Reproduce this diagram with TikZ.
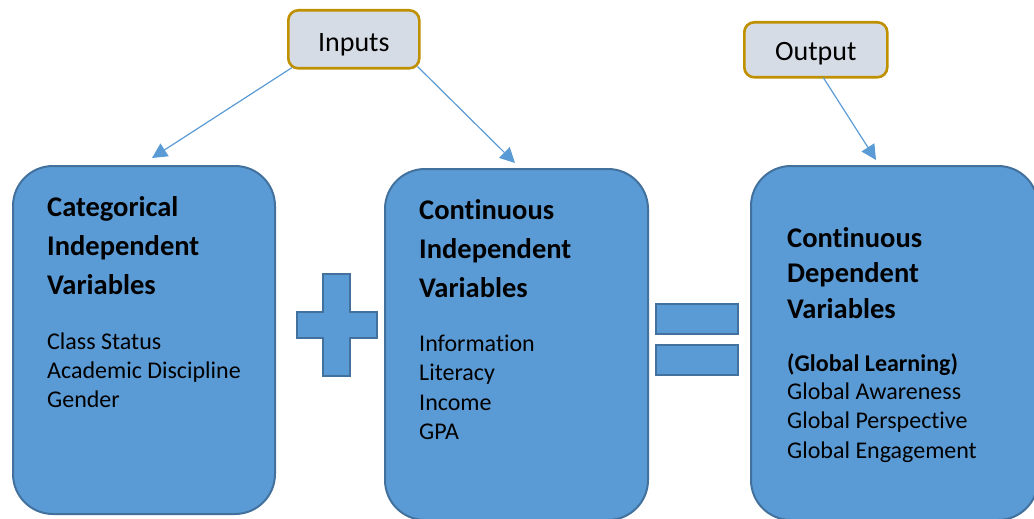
\documentclass[tikz,border=0pt]{standalone}
\usepackage{fontspec}
\setmainfont[Ligatures=NoCommon,RawFeature={-liga;-clig;-dlig}]{Carlito}
\usetikzlibrary{arrows.meta,calc}
\definecolor{boxfill}{HTML}{5B9BD5}
\definecolor{boxline}{HTML}{41719C}
\definecolor{tagfill}{HTML}{D6DCE5}
\definecolor{tagline}{HTML}{BF9000}
\tikzset{
  bigbox/.style={draw=boxline, fill=boxfill, line width=2pt, rounded corners=40pt, anchor=north west, inner sep=0pt},
  tagbox/.style={draw=tagline, fill=tagfill, line width=2.6pt, rounded corners=10pt, anchor=north west, inner sep=0pt, font=\fontsize{28}{32}\selectfont},
  opshape/.style={draw=boxline, fill=boxfill, line width=2pt},
  ttl/.style={anchor=base west, inner sep=0pt, font=\fontsize{28.5}{34}\selectfont\bfseries},
  sub/.style={anchor=base west, inner sep=0pt, font=\fontsize{24}{29}\selectfont\bfseries},
  itm/.style={anchor=base west, inner sep=0pt, font=\fontsize{24}{29}\selectfont},
  arr/.style={draw=boxfill, line width=1.2pt, -{Triangle[length=15pt,width=15pt]}}
}
\begin{document}
\begin{tikzpicture}[x=1pt,y=-1pt]
\useasboundingbox (0,0) rectangle (1034,519);
% boxes
\node[bigbox, minimum width=262pt, minimum height=348pt] (b1) at (12,165) {};
\node[bigbox, minimum width=263pt, minimum height=351pt] (b2) at (384,168) {};
\node[bigbox, minimum width=287pt, minimum height=354pt] (b3) at (750,165) {};
% tags
\node[tagbox, minimum width=131pt, minimum height=58pt] (in) at (287,9) {\raisebox{-12pt}[0pt][0pt]{Inputs}};
\node[tagbox, minimum width=143pt, minimum height=55pt] (out) at (743,21) {\raisebox{-11pt}[0pt][0pt]{Output}};
% plus
\draw[opshape] (323,274) -- (350,274) -- (350,312) -- (377,312) -- (377,338) -- (350,338) -- (350,376) -- (323,376) -- (323,338) -- (297,338) -- (297,312) -- (323,312) -- cycle;
% equals
\node[opshape, anchor=north west, minimum width=82pt, minimum height=30pt, inner sep=0pt] (eq1) at (655,303) {};
\node[opshape, anchor=north west, minimum width=82pt, minimum height=30pt, inner sep=0pt] (eq2) at (655,344) {};
% box 1 text
\node[ttl] (t1a) at (47,216) {Categorical};
\node[ttl] (t1b) at (47,255) {Independent};
\node[ttl] (t1c) at (47,294) {Variables};
\node[itm] (i1a) at (47,349) {Class Status};
\node[itm] (i1b) at (47,378) {Academic Discipline};
\node[itm] (i1c) at (47,407) {Gender};
% box 2 text
\node[ttl] (t2a) at (419,219) {Continuous};
\node[ttl] (t2b) at (419,258) {Independent};
\node[ttl] (t2c) at (419,297) {Variables};
\node[itm] (i2a) at (419,351) {Information};
\node[itm] (i2b) at (419,380) {Literacy};
\node[itm] (i2c) at (419,410) {Income};
\node[itm] (i2d) at (419,439) {GPA};
% box 3 text
\node[ttl] (t3a) at (787,247) {Continuous};
\node[ttl] (t3b) at (787,282) {Dependent};
\node[ttl] (t3c) at (787,318) {Variables};
\node[sub] (s3) at (787,371) {(Global Learning)};
\node[itm] (i3a) at (787,399) {Global Awareness};
\node[itm] (i3b) at (787,428) {Global Perspective};
\node[itm] (i3c) at (787,458) {Global Engagement};
% arrows
\coordinate (a1) at (152,158);
\coordinate (a2) at (515,163);
\coordinate (a3) at (876,160);
\draw[arr] ($(in.south west)+(5,-2)$) -- (a1);
\draw[arr] ($(in.south east)+(-3,-3)$) -- (a2);
\draw[arr] ($(out.south)+(7.5,-1)$) -- (a3);
\end{tikzpicture}
\end{document}
